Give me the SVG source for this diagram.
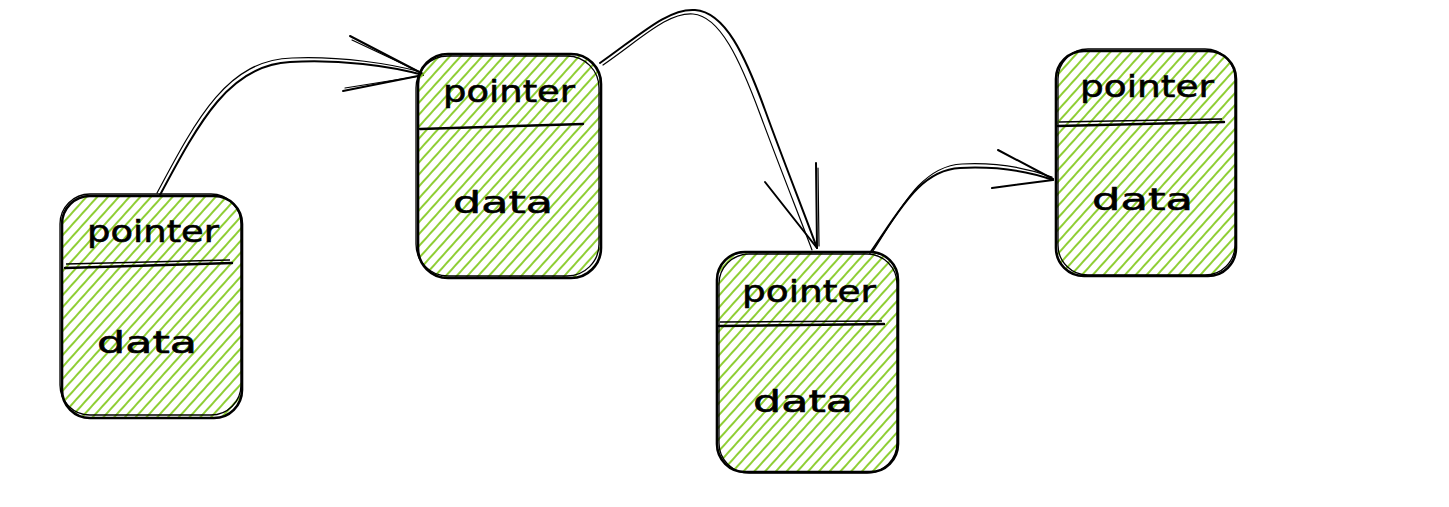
<svg xmlns="http://www.w3.org/2000/svg" width="1449" height="507" viewBox="0 0 1449 507">
<style>
.box{fill:url(#hach);stroke:#000;stroke-width:2.6}
.sk{fill:none;stroke:#000;stroke-width:1.3}
.div{fill:none;stroke:#000;stroke-width:2.4;stroke-linecap:round}
.lbl{font-family:"DejaVu Sans","Liberation Sans",sans-serif;font-size:31px;fill:#000;stroke:#000;stroke-width:0.6}
.arr{fill:none;stroke:#000;stroke-width:2;stroke-linecap:round;stroke-linejoin:round}
.arr2{fill:none;stroke:#000;stroke-width:1.2;stroke-linecap:round}
</style>
<defs>
<pattern id="hach" patternUnits="userSpaceOnUse" width="12" height="8" patternTransform="rotate(-48)">
<line x1="0" y1="4" x2="12" y2="4" stroke="#82c91e" stroke-width="1.8"/>
</pattern>
</defs>
<rect width="1449" height="507" fill="#fff"/>
<g id="connectors">
<g id="arrow1">
<path class="arr" d="M160,195 C200,120 230,65 290,62 C340,59 390,66 423,75"/>
<path class="arr2" d="M157,193 C198,116 228,60 292,58 C342,56 392,64 421,72"/>
<path class="arr" d="M350,36 L423,74 M343,91 L423,75"/>
<path class="arr2" d="M352,40 L420,72 M345,88 L420,76"/>
</g>
<g id="arrow2">
<path class="arr" d="M600,63 C640,35 668,8 695,10 C725,12 745,55 765,110 C785,165 805,215 817,248"/>
<path class="arr2" d="M603,65 C642,38 668,12 693,14 C720,16 740,60 760,114 C780,168 800,218 812,250"/>
<path class="arr" d="M765,182 L817,248 M816,163 L817,248"/>
<path class="arr2" d="M818,168 L819,246"/>
</g>
<g id="arrow3">
<path class="arr" d="M870,253 C900,210 920,170 960,168 C1000,166 1030,172 1053,180"/>
<path class="arr2" d="M873,251 C902,206 922,166 962,164 C1002,162 1030,169 1052,177"/>
<path class="arr" d="M998,150 L1053,179 M992,188 L1053,180"/>
</g>
</g>
<g id="node1">
<rect class="box" x="62" y="196" width="180" height="222" rx="28"/>
<rect class="sk" x="60" y="194" width="181" height="221" rx="30"/>
<path class="div" d="M65,268 L232,263"/>
<path class="sk" d="M66,264 L230,260"/>
<text class="lbl" x="87" y="242" textLength="132" lengthAdjust="spacingAndGlyphs">pointer</text>
<text class="lbl" x="97" y="353" textLength="100" lengthAdjust="spacingAndGlyphs">data</text>
</g>
<g id="node2">
<rect class="box" x="418" y="54" width="183" height="224" rx="30"/>
<rect class="sk" x="416" y="56" width="183" height="220" rx="32"/>
<path class="div" d="M420,129 L583,124"/>
<text class="lbl" x="443" y="102" textLength="132" lengthAdjust="spacingAndGlyphs">pointer</text>
<text class="lbl" x="453" y="213" textLength="100" lengthAdjust="spacingAndGlyphs">data</text>
</g>
<g id="node3">
<rect class="box" x="717" y="252" width="181" height="220" rx="28"/>
<rect class="sk" x="719" y="254" width="178" height="219" rx="30"/>
<path class="div" d="M719,326 L884,324"/>
<path class="sk" d="M720,322 L882,321"/>
<text class="lbl" x="742" y="302" textLength="134" lengthAdjust="spacingAndGlyphs">pointer</text>
<text class="lbl" x="753" y="412" textLength="100" lengthAdjust="spacingAndGlyphs">data</text>
</g>
<g id="node4">
<rect class="box" x="1056" y="51" width="180" height="225" rx="28"/>
<rect class="sk" x="1058" y="49" width="177" height="226" rx="30"/>
<path class="div" d="M1058,126 L1224,122"/>
<path class="sk" d="M1059,122 L1222,119"/>
<text class="lbl" x="1080" y="97" textLength="134" lengthAdjust="spacingAndGlyphs">pointer</text>
<text class="lbl" x="1092" y="210" textLength="101" lengthAdjust="spacingAndGlyphs">data</text>
</g>
</svg>
